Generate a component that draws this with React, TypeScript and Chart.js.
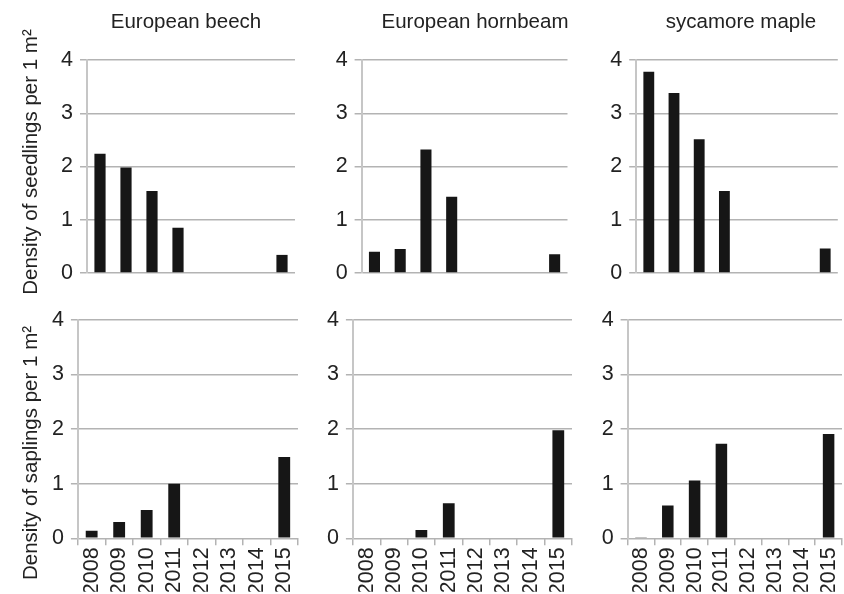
import React, { useEffect, useRef } from 'react';
import { Chart, registerables } from 'chart.js';

Chart.register(...registerables);

// ---- data ----
const YEARS = ['2008', '2009', '2010', '2011', '2012', '2013', '2014', '2015'];
const Y_TICKS = [0, 1, 2, 3, 4];
const SPECIES = ['European beech', 'European hornbeam', 'sycamore maple'];
const SEEDLINGS_TITLE = 'Density of seedlings per 1 m²';
const SAPLINGS_TITLE = 'Density of saplings per 1 m²';

const beechSeedlings = [2.24, 1.98, 1.54, 0.85, 0, 0, 0, 0.34];
const hornbeamSeedlings = [0.4, 0.45, 2.32, 1.43, 0, 0, 0, 0.35];
const mapleSeedlings = [3.78, 3.38, 2.51, 1.54, 0, 0, 0, 0.46];

const beechSaplings = [0.14, 0.3, 0.52, 1.0, 0, 0, 0, 1.49];
const hornbeamSaplings = [0, 0, 0.15, 0.64, 0, 0, 0, 1.98];
const mapleSaplings = [0.01, 0.6, 1.06, 1.73, 0, 0, 0, 1.91];

// ---- layout / style ----
const FONT = '"Liberation Sans", Arial, sans-serif';
const TEXT = '#222222';
const GRID = '#b3b3b3';
const AXIS = '#c6c6c6';
const BAR = '#161616';

type PanelSpec = {
  cx: number; cy: number; w: number; h: number;
  pl: number; pt: number; pb: number;
  yw: number; xh: number; rw: number;
  title?: string; sub?: string;
  data: number[]; bottom: boolean;
};

const PANELS: PanelSpec[] = [
  { cx: 0, cy: 0, w: 353, h: 324, pl: 19, pt: 0, pb: 0, yw: 43.4, xh: 51, rw: 58, title: SPECIES[0], sub: SEEDLINGS_TITLE, data: beechSeedlings, bottom: false },
  { cx: 300, cy: 0, w: 350, h: 324, pl: 0, pt: 0, pb: 0, yw: 61.6, xh: 51, rw: 82.5, title: SPECIES[1], data: hornbeamSeedlings, bottom: false },
  { cx: 580, cy: 0, w: 322, h: 324, pl: 0, pt: 0, pb: 0, yw: 56.2, xh: 51, rw: 64.2, title: SPECIES[2], data: mapleSeedlings, bottom: false },
  { cx: 0, cy: 300, w: 318.2, h: 294, pl: 19, pt: 14.3, pb: 2.3, yw: 34.3, xh: 53.4, rw: 20, sub: SAPLINGS_TITLE, data: beechSaplings, bottom: true },
  { cx: 300, cy: 300, w: 292.4, h: 294, pl: 0, pt: 14.3, pb: 2.3, yw: 52.9, xh: 53.4, rw: 20, data: hornbeamSaplings, bottom: true },
  { cx: 580, cy: 300, w: 282.1, h: 294, pl: 0, pt: 14.3, pb: 2.3, yw: 47.6, xh: 53.4, rw: 20, data: mapleSaplings, bottom: true },
];

function Panel({ spec }: { spec: PanelSpec }) {
  const ref = useRef<HTMLCanvasElement | null>(null);

  useEffect(() => {
    if (!ref.current) return;
    const s = spec;
    const chart = new Chart(ref.current, {
      type: 'bar',
      data: {
        labels: YEARS,
        datasets: [
          {
            data: s.data,
            backgroundColor: BAR,
            borderWidth: 0,
            barPercentage: 0.43,
            categoryPercentage: 1,
            xAxisID: 'x',
            yAxisID: 'y',
          },
        ],
      },
      options: {
        animation: false,
        responsive: false,
        events: [],
        layout: { padding: { left: s.pl, top: s.pt, bottom: s.pb, right: 0 } },
        plugins: {
          legend: { display: false },
          tooltip: { enabled: false },
          title: {
            display: !!s.title,
            text: s.title || '',
            position: 'top',
            color: TEXT,
            font: { family: FONT, size: 20.5, weight: 'normal' },
            padding: { top: 10, bottom: 25.4 },
          },
          subtitle: {
            display: !!s.sub,
            text: s.sub || '',
            position: 'left',
            color: TEXT,
            font: { family: FONT, size: 20.5, weight: 'normal' },
            padding: { top: 0, bottom: 0 },
          },
        },
        scales: {
          x: {
            type: 'category',
            position: 'bottom',
            offset: true,
            border: { display: false },
            grid: {
              display: s.bottom,
              drawOnChartArea: false,
              drawTicks: true,
              tickLength: 7,
              color: GRID,
              lineWidth: 1.5,
            },
            ticks: {
              display: s.bottom,
              autoSkip: false,
              minRotation: 90,
              maxRotation: 90,
              padding: 2,
              color: TEXT,
              font: { family: FONT, size: 21.5 },
            },
            afterFit: (scale: any) => {
              scale.height = s.xh;
            },
          },
          y: {
            type: 'linear',
            position: 'left',
            min: Y_TICKS[0],
            max: Y_TICKS[Y_TICKS.length - 1],
            border: { display: true, color: AXIS, width: 2 },
            grid: {
              color: GRID,
              lineWidth: 1.5,
              tickLength: 7,
              drawTicks: true,
            },
            ticks: {
              stepSize: 1,
              padding: 7,
              color: TEXT,
              font: { family: FONT, size: 21.5 },
            },
            afterFit: (scale: any) => {
              scale.width = s.yw;
            },
          },
          yR: {
            type: 'linear',
            position: 'right',
            display: true,
            border: { display: false },
            grid: { display: false },
            ticks: { display: false },
            afterFit: (scale: any) => {
              scale.width = s.rw;
            },
          },
        },
      } as any,
    });
    return () => chart.destroy();
  }, [spec]);

  return (
    <canvas
      ref={ref}
      width={spec.w}
      height={spec.h}
      style={{
        position: 'absolute',
        left: spec.cx,
        top: spec.cy,
        width: spec.w,
        height: spec.h,
      }}
    />
  );
}

export default function App() {
  return (
    <div
      style={{
        position: 'fixed',
        left: 0,
        top: 0,
        width: 844,
        height: 594,
        overflow: 'hidden',
        background: '#ffffff',
      }}
    >
      {PANELS.map((p, i) => (
        <Panel key={i} spec={p} />
      ))}
    </div>
  );
}
